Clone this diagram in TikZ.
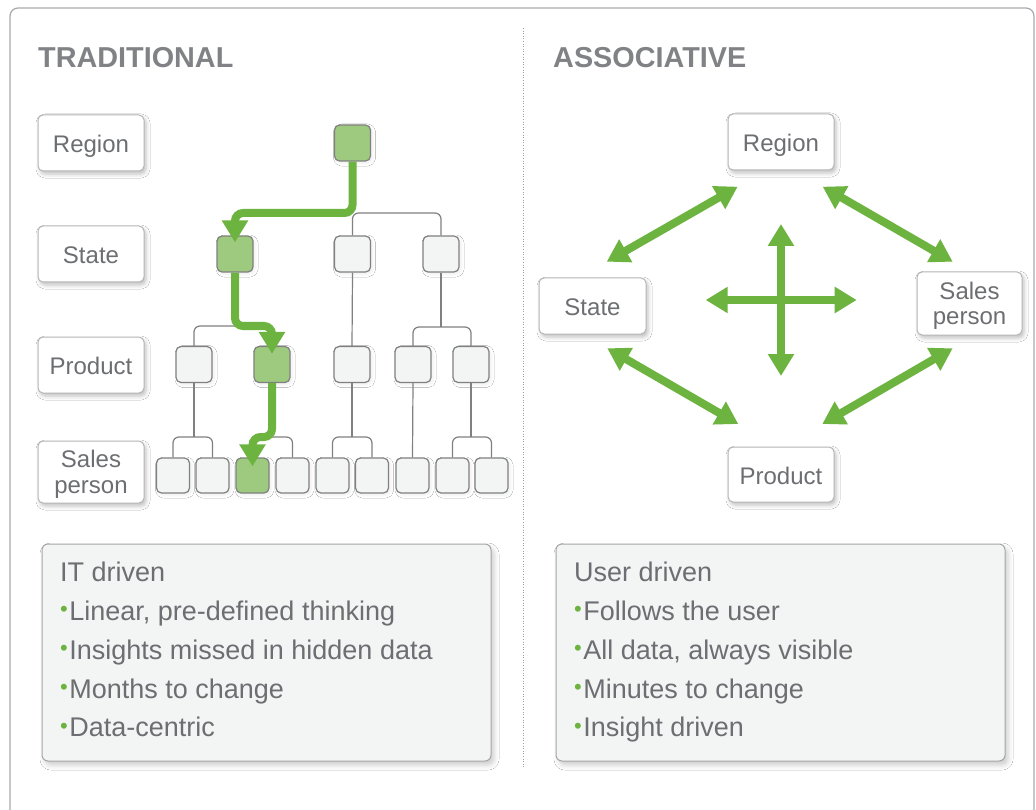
\documentclass[tikz,border=0pt]{standalone}
\usepackage{fontspec}
\setmainfont{Liberation Sans}
\usetikzlibrary{arrows.meta,shadows.blur,calc}
\definecolor{tgreen}{HTML}{6CB33F}
\definecolor{gfill}{HTML}{9DCA7E}
\definecolor{treegray}{HTML}{808080}
\definecolor{boxfill}{HTML}{F3F4F4}
\definecolor{lgray}{HTML}{B5B5B5}
\definecolor{tgray}{HTML}{6D6E71}
\definecolor{hgray}{HTML}{808285}
\definecolor{framegray}{HTML}{A7A9AC}
\definecolor{dotgray}{HTML}{A0A0A0}
\definecolor{bborder}{HTML}{A5A5A5}
\newcommand\gbul{{\color{tgreen}\raisebox{3.6pt}{\fontsize{22}{22}\selectfont\char"2022}}\hspace{1.5pt}}
\begin{document}
\begin{tikzpicture}[x=1pt,y=-1pt,
  tbox/.style={draw=treegray, fill=boxfill, rounded corners=5pt, line width=1.2pt,
    minimum width=36pt, minimum height=36pt, inner sep=0pt,
    blur shadow={shadow xshift=2pt, shadow yshift=-2pt, shadow blur radius=3pt, shadow opacity=7}},
  gbox/.style={tbox, fill=gfill},
  sbox/.style={tbox, minimum width=33pt, minimum height=35pt},
  gsbox/.style={sbox, fill=gfill},
  lbox/.style={draw=lgray, fill=white, rounded corners=5pt, line width=1pt,
    minimum width=106pt, minimum height=56pt, inner sep=0pt,
    font=\fontsize{24}{25.5}\selectfont, text=tgray, text height=19.5pt, text depth=0.5pt,
    blur shadow={shadow xshift=2pt, shadow yshift=-3pt, shadow blur radius=4pt, shadow opacity=25}},
  ltxt/.style={inner sep=0pt, font=\fontsize{24}{25.5}\selectfont, text=tgray, align=center},
  bbox/.style={draw=bborder, fill=boxfill, rounded corners=6pt, line width=1pt,
    minimum width=449pt, minimum height=217pt, inner sep=0pt,
    blur shadow={shadow xshift=3pt, shadow yshift=-4pt, shadow blur radius=5pt, shadow opacity=20}},
  btxt/.style={anchor=base west, inner sep=0pt, font=\fontsize{27}{27}\selectfont, text=tgray},
  htxt/.style={anchor=base west, inner sep=0pt, font=\fontsize{28.8}{29}\selectfont\bfseries, text=hgray},
  gline/.style={draw=treegray, line width=1.2pt, rounded corners=6pt},
  garrow/.style={draw=tgreen, line width=8pt, rounded corners=8pt, -{Triangle[width=25pt,length=22pt]}},
  darr/.style={draw=tgreen, line width=8pt, {Triangle[width=25pt,length=22pt]}-{Triangle[width=25pt,length=22pt]}}
]
\useasboundingbox (0,0) rectangle (1036,810);
\fill[white] (0,0) rectangle (1036,810);
% frame
\draw[framegray, line width=1.2pt, rounded corners=8pt] (10,815) -- (10,8) -- (1034,8) -- (1034,815);
% divider
\draw[dotgray, line width=1pt, dash pattern=on 1pt off 1.6pt] (523,28) -- (523,768);

% headers
\node[htxt] (h1) at (38,68) {TRADITIONAL};
\node[htxt] (h2) at (553,68) {ASSOCIATIVE};

% left labels
\node[lbox] (LR) at (91,143) {Region};
\node[lbox] (LSt) at (91,254) {State};
\node[lbox] (LP) at (91,365) {Product};
\node[lbox, minimum height=62pt] (LS) at (91,472) {};
\node[ltxt] (LSx) at (91,474.5) {Sales\\person};

% tree nodes
\node[gbox] (R) at (352.5,143) {};
\node[gbox] (A) at (235,254) {};
\node[tbox] (B) at (352.5,254) {};
\node[tbox] (C) at (441,254) {};
\node[tbox] (D) at (194,364.5) {};
\node[gbox] (E) at (272,364.5) {};
\node[tbox] (F) at (352,364.5) {};
\node[tbox] (G) at (413,364.5) {};
\node[tbox] (H) at (471,364.5) {};
\node[sbox] (n1) at (173,475.5) {};
\node[sbox] (n2) at (212.5,475.5) {};
\node[gsbox] (n3) at (252.5,475.5) {};
\node[sbox] (n4) at (292.5,475.5) {};
\node[sbox] (n5) at (332.5,475.5) {};
\node[sbox] (n6) at (372,475.5) {};
\node[sbox] (n7) at (412.5,475.5) {};
\node[sbox] (n8) at (452.5,475.5) {};
\node[sbox] (n9) at (491.5,475.5) {};

% gray connectors
\draw[gline] (B.north) -- (B.north |- 0,213) -| (C.north);
\draw[gline] (D.north) |- (A.south |- 0,326);
\draw[gline] (C.south) -- (C.south |- 0,327);
\draw[gline] (G.north) |- (C.south |- 0,327) -| (H.north);
\draw[gline] (B.south) -- (F.north);
\draw[gline] (G.south) -- (n7.north);
\draw[gline] (D.south) -- (D.south |- 0,437);
\draw[gline] (n1.north) |- (D.south |- 0,437) -| (n2.north);
\draw[gline] (n3.north) |- (E.south |- 0,437) -| (n4.north);
\draw[gline] (F.south) -- (F.south |- 0,437);
\draw[gline] (n5.north) |- (F.south |- 0,437) -| (n6.north);
\draw[gline] (H.south) -- (H.south |- 0,437);
\draw[gline] (n8.north) |- (H.south |- 0,437) -| (n9.north);

% green drill path
\draw[garrow] (R.south) -- (R.south |- 0,213) -| ($(A.north)+(0,7)$);
\draw[garrow] (A.south) -- (A.south |- 0,326) -| ($(E.north)+(0,8)$);
\draw[garrow] (E.south) -- (E.south |- 0,437) -| ($(n3.north)+(0,9)$);

% right diagram
\node[lbox] (RR) at (781,142) {Region};
\node[lbox, minimum width=107pt] (RSt) at (592.5,306) {State};
\node[lbox, minimum width=105pt, minimum height=63pt] (RS) at (969.5,303.5) {};
\node[ltxt] (RSx) at (969.5,306) {Sales\\person};
\node[lbox, minimum height=55pt] (RP) at (781,474.5) {Product};

\coordinate (a1) at (737.7,186.7); \coordinate (a2) at (606.7,261.7);
\coordinate (b1) at (822.7,186.7); \coordinate (b2) at (952.7,261.7);
\coordinate (c1) at (607.3,348.3); \coordinate (c2) at (738.3,424);
\coordinate (d1) at (952.7,348.3); \coordinate (d2) at (822.3,424);
\coordinate (v1) at (781,224); \coordinate (v2) at (781,376);
\coordinate (w1) at (705.7,300); \coordinate (w2) at (856.7,300);
\draw[darr] (a1) -- (a2);
\draw[darr] (b1) -- (b2);
\draw[darr] (c1) -- (c2);
\draw[darr] (d1) -- (d2);
\draw[darr] (v1) -- (v2);
\draw[darr] (w1) -- (w2);

% bottom boxes
\node[bbox] (BL) at (266.5,652.5) {};
\node[bbox] (BR) at (780.5,652.5) {};
\node[btxt] (t1) at (60,581.7) {IT driven};
\node[btxt] (t2) at (60,620.5) {\gbul Linear, pre-defined thinking};
\node[btxt] (t3) at (60,659.2) {\gbul Insights missed in hidden data};
\node[btxt] (t4) at (60,698) {\gbul Months to change};
\node[btxt] (t5) at (60,736.7) {\gbul Data-centric};
\node[btxt] (u1) at (574,581.7) {User driven};
\node[btxt] (u2) at (574,620.5) {\gbul Follows the user};
\node[btxt] (u3) at (574,659.2) {\gbul All data, always visible};
\node[btxt] (u4) at (574,698) {\gbul Minutes to change};
\node[btxt] (u5) at (574,736.7) {\gbul Insight driven};
\end{tikzpicture}
\end{document}
